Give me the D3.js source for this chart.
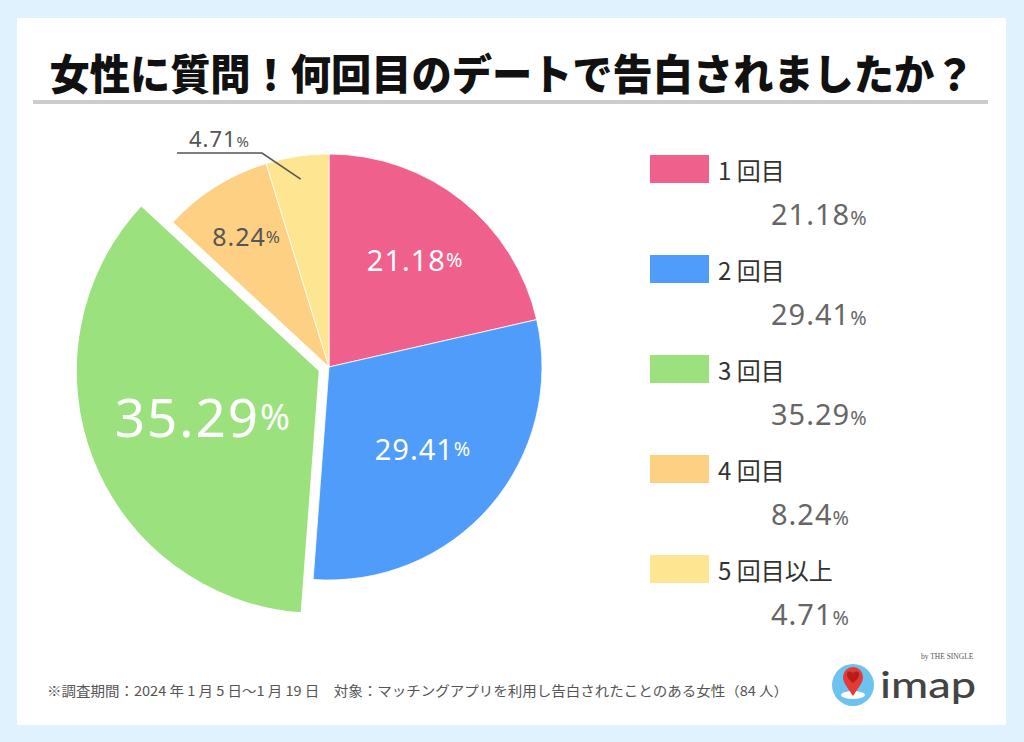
<!DOCTYPE html>
<html><head><meta charset="utf-8">
<script src="https://cdn.jsdelivr.net/npm/d3@7"></script>
<style>html,body{margin:0;padding:0;background:#e0f2fd;}</style>
</head><body>
<svg id="c" width="1024" height="742"></svg>
<script>
const categories = ["1 回目", "2 回目", "3 回目", "4 回目", "5 回目以上"];
const values = [21.18, 29.41, 35.29, 8.24, 4.71];
const colors = ["#f0608c", "#4f9cfa", "#9be27f", "#fdd083", "#fde591"];
const titleText = "女性に質問！何回目のデートで告白されましたか？";
const footText = "※調査期間：2024 年 1 月 5 日〜1 月 19 日　対象：マッチングアプリを利用し告白されたことのある女性（84 人）";

const svg = d3.select("#c");
const JP = "'Noto Sans CJK JP','Noto Sans',sans-serif";
const NUM = "'Noto Sans','Noto Sans CJK JP',sans-serif";

svg.append("rect").attr("width",1024).attr("height",742).attr("fill","#e0f2fd");
svg.append("rect").attr("x",17).attr("y",18).attr("width",989).attr("height",707).attr("fill","#fff");

// title
svg.append("text").attr("x",512).attr("y",71).attr("text-anchor","middle")
  .attr("dominant-baseline","central")
  .attr("font-family",JP).attr("font-weight",900).attr("font-size",42)
  .attr("textLength",925).attr("lengthAdjust","spacingAndGlyphs")
  .attr("fill","#111").text(titleText);
svg.append("rect").attr("x",33).attr("y",100).attr("width",955).attr("height",4).attr("fill","#cccccc");

// pie
const cx = 329, cy = 367, R = 213;
const pie = d3.pie().sort(null).value(d => d)(values);
const arc = d3.arc().innerRadius(0).outerRadius(R);
const bigArc = d3.arc().innerRadius(0).outerRadius(242);
const explodeIdx = 2;
const g = svg.append("g").attr("transform",`translate(${cx},${cy})`);

function offset(d,i){
  if(i!==explodeIdx) return [0,0];
  const a=(d.startAngle+d.endAngle)/2;
  return [Math.sin(a)*11, -Math.cos(a)*11];
}
g.selectAll("path.s").data(pie).join("path").attr("class","s")
  .attr("d",(d,i)=> i===explodeIdx ? bigArc(d) : arc(d))
  .attr("transform",(d,i)=>{const o=offset(d,i);return `translate(${o[0]},${o[1]})`;})
  .attr("fill",(d,i)=>colors[i])
  .attr("stroke","#fff").attr("stroke-width",(d,i)=> i===explodeIdx?0:0.8);

function pct(sel, v, size, color, ls){
  sel.attr("font-family",NUM).attr("fill",color).attr("font-size",size)
     .attr("letter-spacing", ls);
  sel.append("tspan").text(v.toFixed(2));
  sel.append("tspan").attr("font-size",size*0.68).attr("dx",0).text("%");
}

// in-slice labels
pie.forEach((d,i)=>{
  if(i===4) return;
  const a=(d.startAngle+d.endAngle)/2;
  const o=offset(d,i);
  const r = d.value<10 ? 155 : (i===0 ? 138 : 124);
  const x = o[0]+Math.sin(a)*r, y=o[1]-Math.cos(a)*r;
  const size = i===explodeIdx ? 53 : (d.value<10 ? 25 : 29);
  const col = d.value<10 ? "#555" : "#fff";
  const t = g.append("text").attr("x",x).attr("y",y).attr("text-anchor","middle")
    .attr("dominant-baseline","central");
  pct(t, d.value, size, col, i===explodeIdx ? 2 : 1);
});

// outside label for the smallest slice
{
  const d = pie[4];
  const a=(d.startAngle+d.endAngle)/2;
  const p0=[Math.sin(a)*190, -Math.cos(a)*190];
  const p1=[262-cx, 153-cy];
  const p2=[177-cx, 153-cy];
  g.append("path").attr("d",d3.line()([p0,p1,p2])).attr("fill","none")
    .attr("stroke","#555").attr("stroke-width",1.6);
  const t=g.append("text").attr("x",(p1[0]+p2[0])/2).attr("y",147-cy).attr("text-anchor","middle");
  pct(t, d.value, 22, "#555", 1);
}

// legend
const lg = svg.append("g");
categories.forEach((c,i)=>{
  const y0 = 155 + i*100;
  lg.append("rect").attr("x",650).attr("y",y0).attr("width",59).attr("height",28).attr("fill",colors[i]);
  lg.append("text").attr("x",718).attr("y",y0+14).attr("dominant-baseline","central")
    .attr("font-family",JP).attr("font-size",24).attr("fill","#333").text(c);
  const t = lg.append("text").attr("x",771).attr("y",y0+70);
  pct(t, values[i], 29, "#666", 1);
});

// footer
svg.append("text").attr("x",47).attr("y",690).attr("dominant-baseline","central")
  .attr("font-family",JP).attr("font-size",13.5).attr("fill","#555")
  .attr("textLength",741).attr("lengthAdjust","spacingAndGlyphs").text(footText);

// logo
const lo = svg.append("g");
lo.append("circle").attr("cx",853).attr("cy",685).attr("r",21).attr("fill","#6cc3f0");
lo.append("ellipse").attr("cx",853).attr("cy",695).attr("rx",12).attr("ry",4).attr("fill","#fff");
lo.append("path").attr("d","M853,696 C848,688 843,683 843,677 A10,10 0 0 1 863,677 C863,683 858,688 853,696 Z").attr("fill","#e53935");
lo.append("path").attr("d","M853,683 C848,679 847,677 847,675 A3,3 0 0 1 853,674 A3,3 0 0 1 859,675 C859,677 858,679 853,683 Z").attr("fill","#b71c1c");
lo.append("text").attr("x",880).attr("y",698).attr("font-family","'Lato','Noto Sans',sans-serif")
  .attr("font-size",36).attr("font-weight",500).attr("fill","#444")
  .attr("textLength",96).attr("lengthAdjust","spacingAndGlyphs").text("imap");
lo.append("text").attr("x",921).attr("y",659).attr("font-family","'Liberation Serif',serif")
  .attr("font-size",7.5).attr("fill","#555").text("by THE SINGLE");
</script>
</body></html>
